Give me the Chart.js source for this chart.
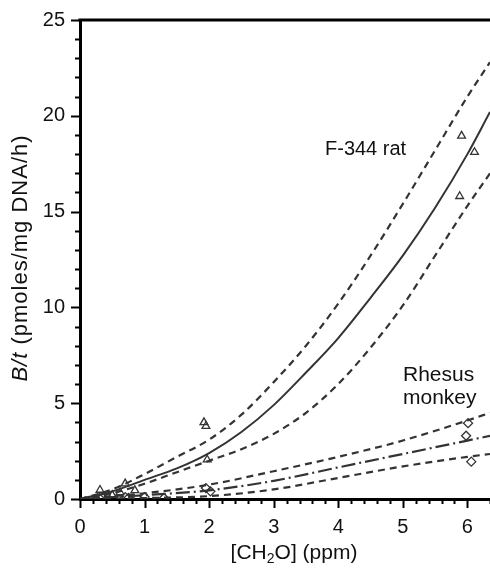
<!DOCTYPE html>
<html>
<head>
<meta charset="utf-8">
<script src="https://cdn.jsdelivr.net/npm/chart.js@4.4.1/dist/chart.umd.min.js"></script>
<style>
  html, body { margin: 0; padding: 0; background: #fff; }
  #wrap { width: 490px; height: 572px; }
</style>
</head>
<body>
<div id="wrap"><canvas id="bioChart" width="490" height="572"></canvas></div>
<script>
// fitted curves, [CH2O] ppm -> B/t
const ratX = [0, 0.5, 1, 1.5, 2, 2.5, 3, 3.5, 4, 4.5, 5, 5.5, 6, 6.35];
const ratFit = [0, 0.4, 1.0, 1.6, 2.4, 3.5, 4.9, 6.6, 8.4, 10.5, 12.7, 15.2, 18.0, 20.2];
const ratUpper = [0, 0.5, 1.3, 2.2, 3.1, 4.4, 6.1, 8.0, 10.2, 12.7, 15.4, 18.2, 21.0, 22.8];
const ratLower = [0, 0.3, 0.8, 1.4, 2.0, 2.6, 3.4, 4.5, 6.0, 7.9, 10.1, 12.7, 15.3, 17.0];

const monkeyX = [0, 1, 2, 3, 4, 5, 6, 6.35];
const monkeyFit = [0, 0.2, 0.45, 0.95, 1.65, 2.35, 3.05, 3.3];
const monkeyUpper = [0, 0.3, 0.75, 1.45, 2.2, 3.05, 4.1, 4.5];
const monkeyLower = [0, 0.05, 0.15, 0.5, 1.1, 1.7, 2.2, 2.35];

// observations
const ratObsX = [0.31, 0.5, 0.62, 0.7, 0.85, 1.92, 1.95, 1.97, 5.88, 5.91, 6.11];
const ratObsY = [0.47, 0.2, 0.35, 0.8, 0.45, 4.0, 3.8, 2.05, 15.8, 18.95, 18.1];
const monkeyObsX = [0.3, 0.35, 0.7, 0.75, 1.0, 1.3, 1.95, 2.02, 5.98, 6.01, 6.06];
const monkeyObsY = [0.05, 0.1, 0.1, 0.05, 0.1, 0.05, 0.57, 0.4, 3.3, 3.96, 1.95];

const xMajor = [0, 1, 2, 3, 4, 5, 6];
const yMajor = [0, 5, 10, 15, 20, 25];

const ink = "#333";
const font = "Arial, 'Liberation Sans', sans-serif";

function pts(xs, ys) {
    return xs.map((x, i) => ({ x: x, y: ys[i] }));
}

function near(v, list) {
    return list.some(m => Math.abs(m - v) < 1e-6);
}

function curve(label, xs, ys, dash, width) {
    return {
        label: label,
        data: pts(xs, ys),
        showLine: true,
        borderColor: ink,
        borderWidth: width,
        borderDash: dash,
        pointRadius: 0,
        cubicInterpolationMode: "monotone",
    };
}

// ticks, top frame line, titles and the curve labels
const decor = {
    id: "decor",
    afterDraw(chart) {
        const { ctx, chartArea: a, scales: { x, y } } = chart;
        ctx.save();
        ctx.strokeStyle = "#000";
        ctx.lineWidth = 3;
        ctx.beginPath();
        ctx.moveTo(a.left - 1.5, a.top);
        ctx.lineTo(a.right, a.top);
        ctx.stroke();

        ctx.lineWidth = 2;
        x.ticks.forEach(t => {
            const px = Math.round(x.getPixelForValue(t.value)) + 0.5;
            const len = near(t.value, xMajor) ? 9 : 5;
            ctx.beginPath();
            ctx.moveTo(px, a.bottom);
            ctx.lineTo(px, a.bottom + len);
            ctx.stroke();
        });
        y.ticks.forEach(t => {
            const py = Math.round(y.getPixelForValue(t.value)) + 0.5;
            const len = near(t.value, yMajor) ? 9 : 5;
            ctx.beginPath();
            ctx.moveTo(a.left, py);
            ctx.lineTo(a.left - len, py);
            ctx.stroke();
        });

        ctx.fillStyle = "#111";
        ctx.textBaseline = "middle";

        // x title with subscript
        const big = "21px " + font;
        const small = "14px " + font;
        const parts = [["[CH", big, 0], ["2", small, 6], ["O] (ppm)", big, 0]];
        let w = 0;
        parts.forEach(p => { ctx.font = p[1]; w += ctx.measureText(p[0]).width; });
        let cx = 294 - w / 2;
        ctx.textAlign = "left";
        parts.forEach(p => {
            ctx.font = p[1];
            ctx.fillText(p[0], cx, 553 + p[2]);
            cx += ctx.measureText(p[0]).width;
        });

        // y title, "B/t" in italics
        ctx.save();
        ctx.translate(21, 258);
        ctx.rotate(-Math.PI / 2);
        ctx.letterSpacing = "1px";
        const yParts = [["B/t", "italic 22px " + font], [" (pmoles/mg DNA/h)", "22px " + font]];
        w = 0;
        yParts.forEach(p => { ctx.font = p[1]; w += ctx.measureText(p[0]).width; });
        cx = -w / 2;
        yParts.forEach(p => {
            ctx.font = p[1];
            ctx.fillText(p[0], cx, 0);
            cx += ctx.measureText(p[0]).width;
        });
        ctx.restore();

        ctx.font = "20px " + font;
        ctx.fillText("F-344 rat", 325, 149);
        ctx.font = "21px " + font;
        ctx.fillText("Rhesus", 403, 375);
        ctx.fillText("monkey", 403, 398);
        ctx.restore();
    },
};

new Chart(document.getElementById("bioChart"), {
    type: "scatter",
    plugins: [decor],
    data: {
        datasets: [
            curve("Rat fit", ratX, ratFit, [], 2),
            curve("Rat upper", ratX, ratUpper, [7, 5], 2.2),
            curve("Rat lower", ratX, ratLower, [7, 5], 2.2),
            curve("Monkey fit", monkeyX, monkeyFit, [14, 4, 2, 4], 2.2),
            curve("Monkey upper", monkeyX, monkeyUpper, [7, 5], 2.2),
            curve("Monkey lower", monkeyX, monkeyLower, [7, 5], 2.2),
            {
                label: "Rat data",
                data: pts(ratObsX, ratObsY),
                pointStyle: "triangle",
                pointRadius: 4.5,
                borderColor: ink,
                borderWidth: 1.3,
                backgroundColor: "rgba(255,255,255,0)",
            },
            {
                label: "Monkey data",
                data: pts(monkeyObsX, monkeyObsY),
                pointStyle: "rectRot",
                pointRadius: 4.5,
                borderColor: ink,
                borderWidth: 1.3,
                backgroundColor: "rgba(255,255,255,0)",
            },
        ],
    },
    options: {
        responsive: false,
        animation: false,
        layout: { autoPadding: false, padding: { top: 20, right: 0, left: 0, bottom: 0 } },
        plugins: {
            legend: { display: false },
            tooltip: { enabled: false },
        },
        scales: {
            x: {
                min: 0,
                max: 6.35,
                afterFit: (scale) => {
                    scale.height = 73;
                    scale.paddingLeft = 0;
                    scale.paddingRight = 0;
                },
                grid: { display: true, drawOnChartArea: false, drawTicks: false },
                border: { display: true, color: "#000", width: 3 },
                ticks: {
                    stepSize: 0.2,
                    autoSkip: false,
                    maxRotation: 0,
                    padding: 16,
                    color: "#111",
                    font: { family: font, size: 20 },
                    callback: (v) => near(v, xMajor) ? Math.round(v) : "",
                },
            },
            y: {
                min: 0,
                max: 25,
                afterFit: (scale) => {
                    scale.width = 80;
                    scale.paddingTop = 0;
                    scale.paddingBottom = 0;
                },
                grid: { display: true, drawOnChartArea: false, drawTicks: false },
                border: { display: true, color: "#000", width: 3 },
                ticks: {
                    stepSize: 1,
                    autoSkip: false,
                    padding: 15,
                    color: "#111",
                    font: { family: font, size: 20 },
                    callback: (v) => near(v, yMajor) ? v : "",
                },
            },
        },
    },
});
</script>
</body>
</html>
